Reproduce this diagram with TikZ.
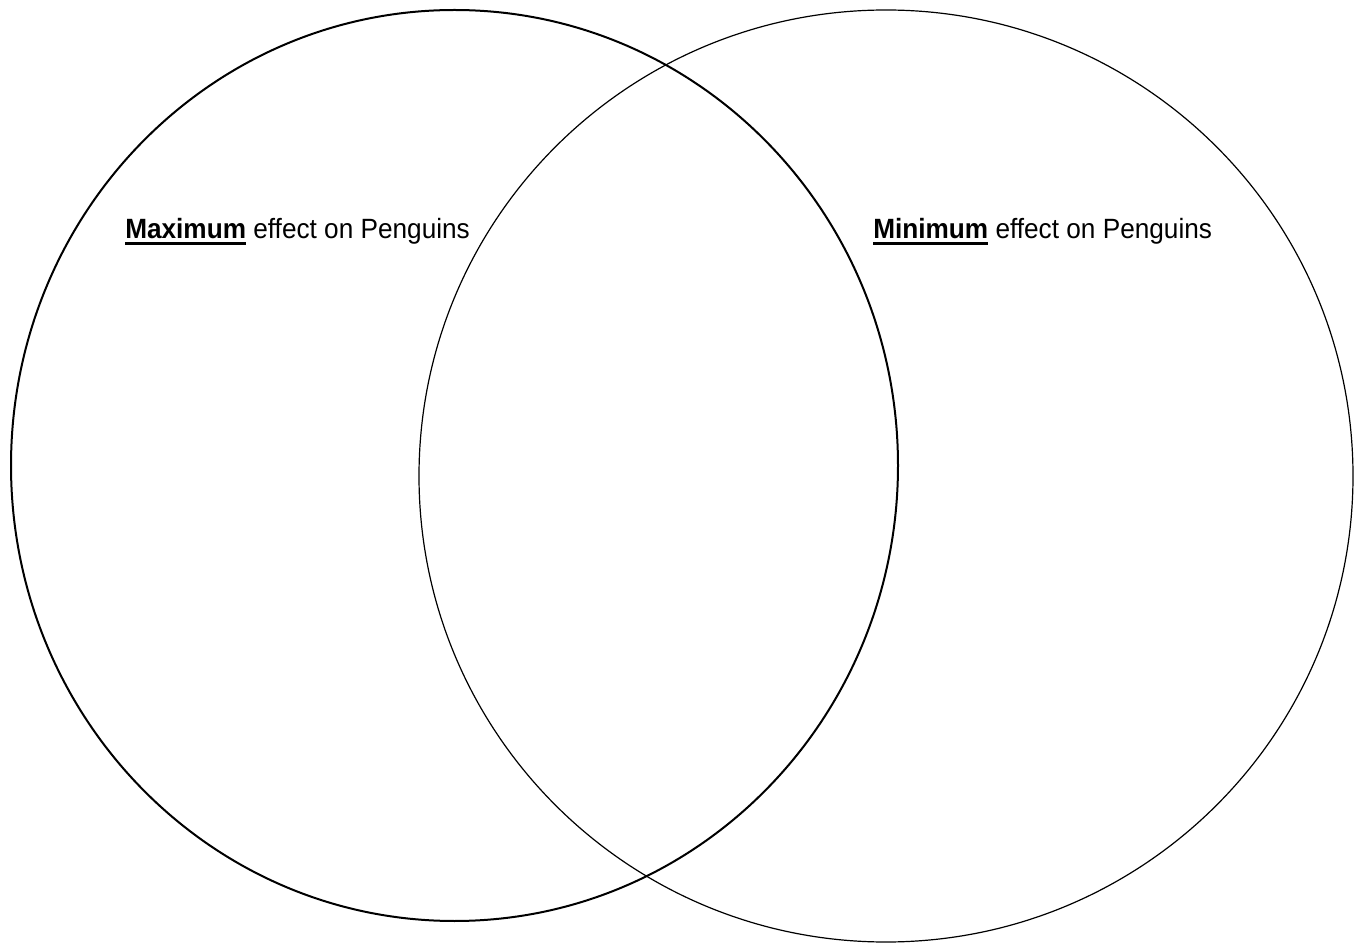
\documentclass[tikz,border=0pt]{standalone}
\usepackage{fontspec}
\setmainfont{Liberation Sans}[FakeStretch=0.94]
\newcommand\ulbf[1]{\setbox0\hbox{\bfseries #1}\rlap{\rule[-5pt]{\wd0}{2pt}}\box0\relax}
\begin{document}
\begin{tikzpicture}[x=0.75pt,y=-0.75pt,
  lbl/.style={anchor=base west,inner sep=0pt,font=\fontsize{20.9pt}{24pt}\selectfont}]
\useasboundingbox (0,0) rectangle (1361,944);
\draw[line width=1.5pt] (454.5,465.5) ellipse [x radius=443.5, y radius=455.5];
\draw[line width=0.9pt] (886,476) ellipse [x radius=467, y radius=466];
\node[lbl] (maxl) at (125,238.3) {\ulbf{Maximum} effect on Penguins};
\node[lbl] (minl) at (873,238.3) {\ulbf{Minimum} effect on Penguins};
\end{tikzpicture}
\end{document}
